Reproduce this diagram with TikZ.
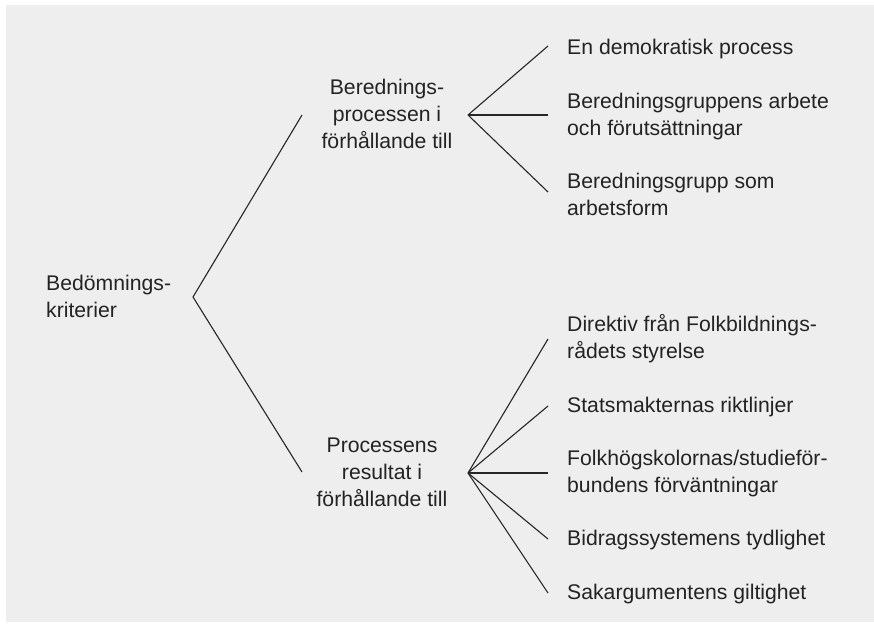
\documentclass[tikz,border=0pt]{standalone}
\usepackage{fontspec}
\setmainfont{Liberation Sans}
\definecolor{panelgray}{RGB}{238,238,238}
\definecolor{textgray}{RGB}{35,35,35}

\begin{document}
\begin{tikzpicture}[x=1pt, y=-1pt,
    label/.style={font=\fontsize{21.2}{26.7}\selectfont, text=textgray, inner sep=0pt, align=left, anchor=base west},
    midlabel/.style={label, align=center, anchor=base},
    branch/.style={line width=1.1pt, draw=black!85}]
    % Panel
    \useasboundingbox (0,0) rectangle (874,623);
    \fill[panelgray] (6,5) rectangle (874,622);

    % Root and the two middle levels (y = baseline of last line)
    \node[label] (root) at (46,317) {Bedömnings-\\kriterier};
    \node[midlabel] (proc) at (387,148) {Berednings-\\processen i\\förhållande till};
    \node[midlabel] (res) at (382,506) {Processens\\resultat i\\förhållande till};

    \coordinate (rootfork) at (193,297);
    \coordinate (procend) at (302,115);
    \coordinate (resend) at (302,472);
    \coordinate (procfork) at (468,115);
    \coordinate (resfork) at (468,473);
    \draw[branch] (procend) -- (rootfork) -- (resend);

    % Leaves of the upper fork
    \foreach \n/\yb/\ye/\txt in {demo/55/46/{En demokratisk process},
                                 grupp/135/115/{Beredningsgruppens arbete\\och förutsättningar},
                                 form/215/192/{Beredningsgrupp som\\arbetsform}} {
        \node[label] (\n) at (567,\yb) {\txt};
        \coordinate (\n-end) at (548,\ye);
        \draw[branch] (procfork) -- (\n-end);
    }

    % Leaves of the lower fork
    \foreach \n/\yb/\ye/\txt in {direktiv/358/339/{Direktiv från Folkbildnings-\\rådets styrelse},
                                 stat/412/406/{Statsmakternas riktlinjer},
                                 folk/492/473/{Folkhögskolornas/studieför-\\bundens förväntningar},
                                 bidrag/545/539/{Bidragssystemens tydlighet},
                                 sak/599/593/{Sakargumentens giltighet}} {
        \node[label] (\n) at (567,\yb) {\txt};
        \coordinate (\n-end) at (548,\ye);
        \draw[branch] (resfork) -- (\n-end);
    }
\end{tikzpicture}
\end{document}
